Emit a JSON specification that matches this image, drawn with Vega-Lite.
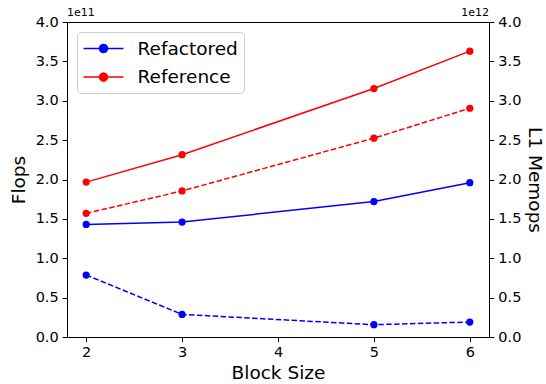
{
  "$schema": "https://vega.github.io/schema/vega-lite/v6.json",
  "width": 422,
  "height": 315,
  "autosize": "none",
  "padding": {"left": 67, "top": 22, "right": 57, "bottom": 47},
  "background": "white",
  "config": {
    "font": "DejaVu Sans",
    "view": {"stroke": "black", "strokeWidth": 1},
    "axis": {
      "grid": false,
      "domainColor": "black",
      "tickColor": "black",
      "labelColor": "#000000",
      "titleColor": "#000000",
      "labelFont": "DejaVu Sans",
      "titleFont": "DejaVu Sans",
      "labelFontSize": 14.5,
      "titleFontSize": 18.5,
      "titleFontWeight": "normal",
      "tickSize": 4.8,
      "labelPadding": 4,
      "domainWidth": 1,
      "labelOverlap": false
    }
  },
  "datasets": {
    "perf": [
      {"block": 2, "version": "Refactored", "flops": 1.43e11, "memops": 0.787e12},
      {"block": 3, "version": "Refactored", "flops": 1.46e11, "memops": 0.287e12},
      {"block": 5, "version": "Refactored", "flops": 1.72e11, "memops": 0.156e12},
      {"block": 6, "version": "Refactored", "flops": 1.96e11, "memops": 0.19e12},
      {"block": 2, "version": "Reference", "flops": 1.967e11, "memops": 1.57e12},
      {"block": 3, "version": "Reference", "flops": 2.315e11, "memops": 1.855e12},
      {"block": 5, "version": "Reference", "flops": 3.155e11, "memops": 2.525e12},
      {"block": 6, "version": "Reference", "flops": 3.63e11, "memops": 2.905e12}
    ],
    "left_corner": [{"block": 1.8, "flops": 4e11, "label": "1e11"}],
    "right_corner": [{"block": 6.2, "memops": 4e12, "label": "1e12"}]
  },
  "layer": [
    {
      "encoding": {
        "x": {"field": "block", "type": "quantitative", "scale": {"domain": [1.8, 6.2], "nice": false, "zero": false}, "axis": {"values": [2, 3, 4, 5, 6], "title": "Block Size", "format": "d", "titlePadding": 4}},
        "y": {"field": "flops", "type": "quantitative", "scale": {"domain": [0, 4e11], "nice": false}, "axis": {"values": [0, 50000000000, 100000000000, 150000000000, 200000000000, 250000000000, 300000000000, 350000000000, 400000000000], "labelExpr": "format(datum.value / 1e11, '.1f')", "title": "Flops", "titlePadding": 7}}
      },
      "layer": [
        {
          "data": {"name": "perf"},
          "mark": {"type": "line", "strokeWidth": 1.5, "point": {"size": 52, "filled": true, "opacity": 1}},
          "encoding": {
            "color": {
              "field": "version", "type": "nominal",
              "scale": {"domain": ["Refactored", "Reference"], "range": ["#0000ff", "#ff0000"]},
              "legend": {
                "title": null,
                "orient": "top-left",
                "offset": 10,
                "symbolType": "M-1,0H3M1.4,0L1.346,0.2L1.2,0.346L1,0.4L0.8,0.346L0.654,0.2L0.6,0L0.654,-0.2L0.8,-0.346L1,-0.4L1.2,-0.346L1.346,-0.2Z",
                "symbolSize": 400,
                "symbolStrokeWidth": 1.5,
                "labelFontSize": 18.5,
                "labelFont": "DejaVu Sans",
                "labelColor": "#000000",
                "labelOffset": 33,
                "rowPadding": 7.6,
                "padding": 5.5,
                "strokeColor": "#cccccc",
                "fillColor": "rgba(255,255,255,0.8)",
                "cornerRadius": 4,
                "encode": {"symbols": {"update": {"fill": {"scale": "color", "field": "value"}, "opacity": {"value": 1}}}}
              }
            }
          }
        },
        {
          "data": {"name": "left_corner"},
          "mark": {"type": "text", "align": "left", "baseline": "bottom", "dy": -4, "fontSize": 11, "font": "DejaVu Sans", "color": "#000000"},
          "encoding": {"text": {"field": "label", "type": "nominal"}}
        }
      ]
    },
    {
      "encoding": {
        "x": {"field": "block", "type": "quantitative"},
        "y": {"field": "memops", "type": "quantitative", "scale": {"domain": [0, 4e12], "nice": false}, "axis": {"orient": "right", "values": [0, 500000000000, 1000000000000, 1500000000000, 2000000000000, 2500000000000, 3000000000000, 3500000000000, 4000000000000], "labelExpr": "format(datum.value / 1e12, '.1f')", "title": "L1 Memops", "titlePadding": 4}}
      },
      "layer": [
        {
          "data": {"name": "perf"},
          "mark": {"type": "line", "strokeWidth": 1.5, "strokeDash": [5.5, 2.4], "point": {"size": 52, "filled": true, "opacity": 1}},
          "encoding": {"color": {"field": "version", "type": "nominal"}}
        },
        {
          "data": {"name": "right_corner"},
          "mark": {"type": "text", "align": "right", "baseline": "bottom", "dy": -4, "fontSize": 11, "font": "DejaVu Sans", "color": "#000000"},
          "encoding": {"text": {"field": "label", "type": "nominal"}}
        }
      ]
    }
  ],
  "resolve": {"scale": {"y": "independent"}, "axis": {"y": "independent"}}
}
